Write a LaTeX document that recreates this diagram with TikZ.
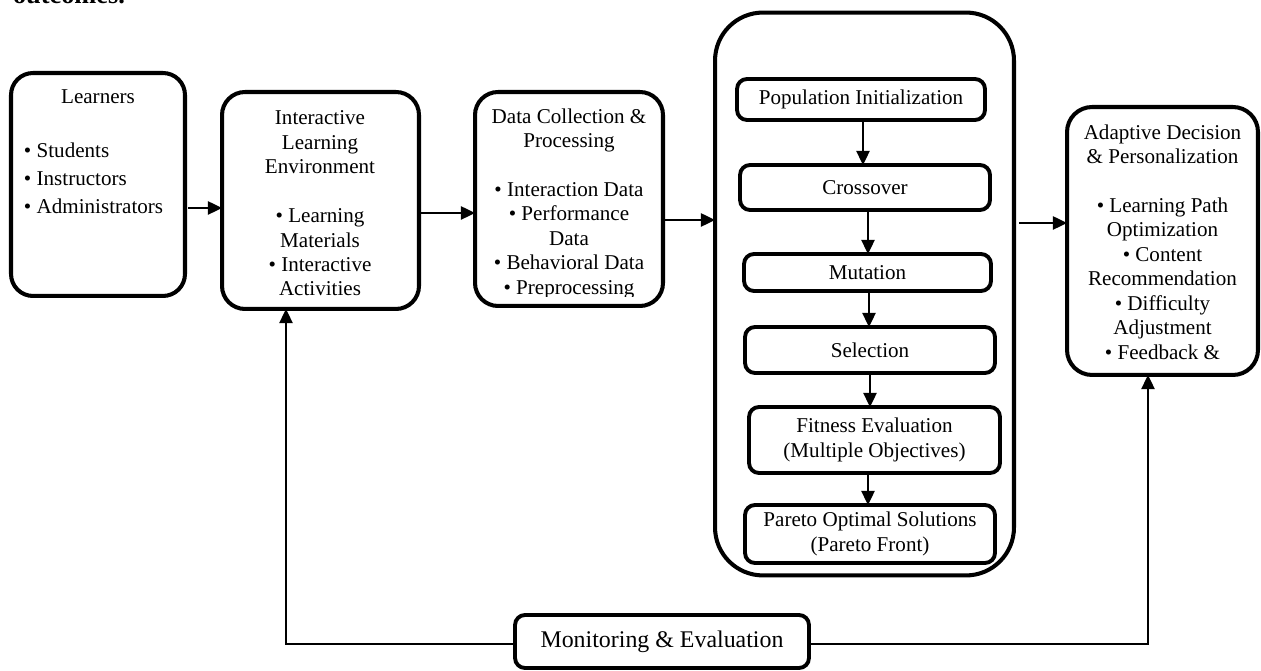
\documentclass[tikz,border=0pt]{standalone}
\usepackage{fontspec}
\setmainfont{Liberation Serif}
\usetikzlibrary{arrows.meta}
\tikzset{
  box/.style={draw, line width=2.3pt, inner sep=0pt, outer sep=0pt},
  bigbox/.style={box, rounded corners=0.46cm},
  sbox/.style={draw, line width=2.2pt, rounded corners=0.2cm, inner sep=0pt, outer sep=0pt, align=center},
  txt/.style={inner sep=0pt, outer sep=0pt, align=center},
  arr/.style={-{Triangle[length=8pt,width=7.5pt]}, line width=1.1pt},
  fb/.style={line width=1pt}
}
\begin{document}
\begin{tikzpicture}[x=0.02cm, y=-0.02cm, font=\fontsize{12}{13.9}\selectfont]
\useasboundingbox (0,0) rectangle (1261,671);
\begin{scope}
\clip (0,0) rectangle (1261,671);
\node[inner sep=0pt, outer sep=0pt, anchor=south west, font=\bfseries\fontsize{15}{18}\selectfont] (cut) at (13,3.5) {outcomes.};
\end{scope}

% Learners
\node[bigbox, rounded corners=0.44cm, minimum width=3.48cm, minimum height=4.46cm] (learners) at (98,184.5) {};
\node[txt] (learners-t) at (98,97) {Learners};
\node[txt, anchor=west, align=left, font=\fontsize{12}{15.9}\selectfont] (learners-l) at (24,178.5) {• Students\\• Instructors\\• Administrators};

% Interactive Learning Environment
\node[bigbox, minimum width=3.94cm, minimum height=4.34cm] (ile) at (320.5,200.5) {};
\node[txt] (ile-t) at (320,203.5) {Interactive\\Learning\\Environment\\[13.9pt]• Learning\\Materials\\• Interactive\\Activities};

% Data Collection
\node[bigbox, minimum width=3.76cm, minimum height=4.28cm] (dcp) at (569,199) {};
\begin{scope}
\clip (478,95) rectangle (660,297);
\node[txt] (dcp-t) at (569,203.5) {Data Collection \&\\Processing\\[13.9pt]• Interaction Data\\• Performance\\Data\\• Behavioral Data\\• Preprocessing};
\end{scope}

% GA container
\node[box, rounded corners=0.96cm, minimum width=5.98cm, minimum height=11.26cm] (ga) at (864.5,294) {};
\node[sbox, minimum width=4.96cm, minimum height=0.82cm] (pop) at (861,99.5) {Population Initialization};
\node[sbox, minimum width=5.0cm, minimum height=0.9cm] (cross) at (865,187.5) {Crossover};
\node[sbox, minimum width=4.94cm, minimum height=0.74cm] (mut) at (867.5,272.5) {Mutation};
\node[sbox, minimum width=5.0cm, minimum height=0.92cm] (sel) at (870,350) {Selection};
\node[sbox, minimum width=5.02cm, minimum height=1.32cm] (fit) at (874.5,440) {Fitness Evaluation\\(Multiple Objectives)};
\node[sbox, minimum width=5.0cm, minimum height=1.16cm] (par) at (870,534) {Pareto Optimal Solutions\\(Pareto Front)};

% Adaptive
\node[bigbox, rounded corners=0.5cm, minimum width=3.82cm, minimum height=5.36cm] (adp) at (1162.5,241) {};
\node[txt] (adp-t) at (1162.5,242) {Adaptive Decision\\\& Personalization\\[13.9pt]• Learning Path\\Optimization\\• Content\\Recommendation\\• Difficulty\\Adjustment\\• Feedback \&};

% Monitoring
\node[sbox, minimum width=5.88cm, minimum height=1.06cm, font=\fontsize{13.6}{15.6}\selectfont] (mon) at (662,641.5) {Monitoring \& Evaluation};

% feedback corners
\coordinate (fbL) at (286,644);
\coordinate (fbR) at (1148,644);

% main flow
\draw[arr] ([xshift=2pt]learners.east |- 0,208) -- (ile.west |- 0,208);
\draw[arr] (ile.east |- 0,213) -- (dcp.west |- 0,213);
\draw[arr] (dcp.east |- 0,220) -- (ga.west |- 0,220);
\draw[arr] ([xshift=3pt]ga.east |- 0,223) -- (adp.west |- 0,223);

% GA internal
\draw[arr] (pop.south -| 863,0) -- (cross.north -| 863,0);
\draw[arr] (cross.south -| 868,0) -- (mut.north -| 868,0);
\draw[arr] (mut.south -| 869,0) -- (sel.north -| 869,0);
\draw[arr] (sel.south -| 870,0) -- (fit.north -| 870,0);
\draw[arr] (fit.south -| 868,0) -- (par.north -| 868,0);

% feedback
\draw[arr, fb] (mon.west |- fbL) -- (fbL) -- (fbL |- ile.south);
\draw[arr, fb] (mon.east |- fbR) -- (fbR) -- (fbR |- adp.south);
\end{tikzpicture}
\end{document}
